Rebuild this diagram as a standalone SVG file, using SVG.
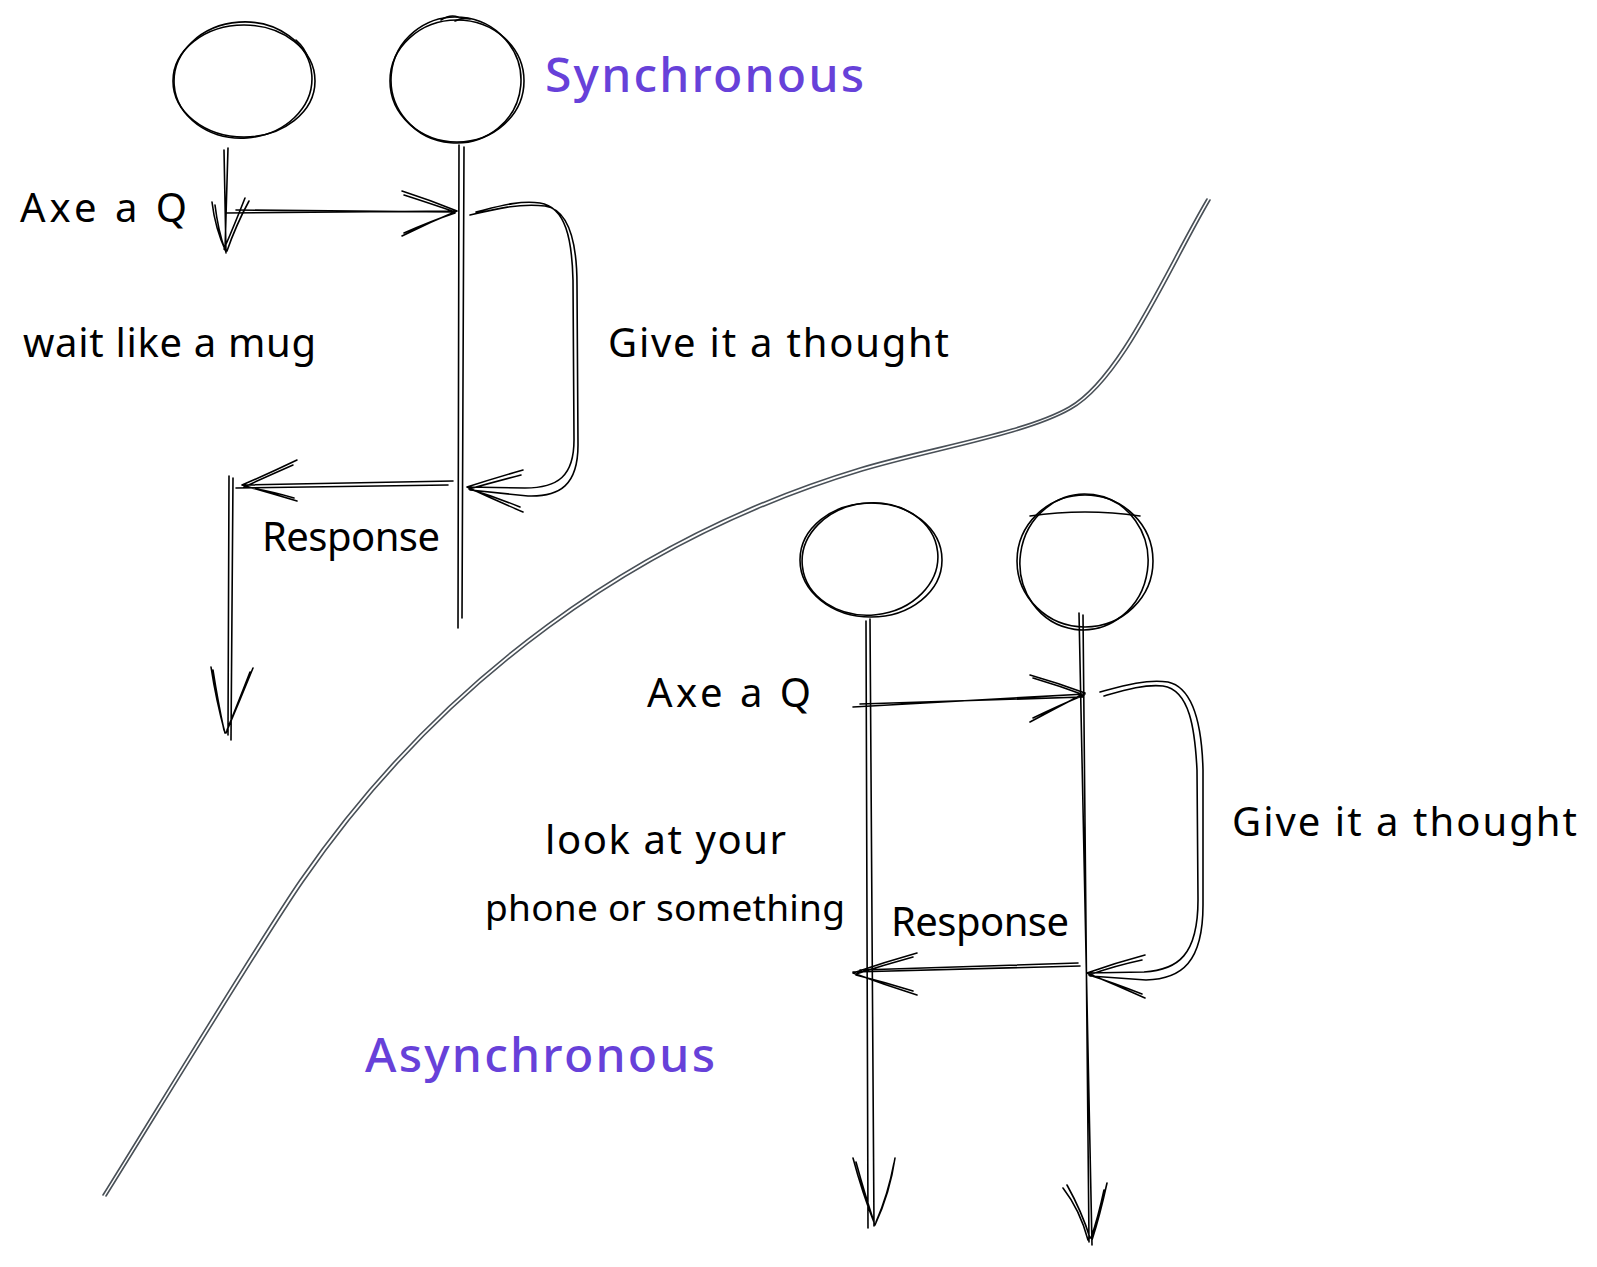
<svg xmlns="http://www.w3.org/2000/svg" width="1597" height="1267" viewBox="0 0 1597 1267">
<style>
.s{fill:none;stroke:#000;stroke-width:1.6;stroke-linecap:round;stroke-linejoin:round}
.d{fill:none;stroke:#495057;stroke-width:1.6;stroke-linecap:round}
.t{font-family:"Noto Sans","Liberation Sans",sans-serif;font-size:40px;fill:#000}
.p{font-family:"Noto Sans","Liberation Sans",sans-serif;font-size:48px;font-weight:500;fill:#6741d9}
</style>
<rect width="1597" height="1267" fill="#fff"/>
<g id="divider">
<path id="dv" class="d" d="M103,1195 C148,1123 260,938 300,880 C437.8,680.5 633.8,536.3 860,468 C930,447 1024,432.7 1069,407 C1120,378 1165,270 1207,199"/>
<path class="d" d="M106,1196 C151,1124 263,940 303,882 C440,683 636,539 862,471 C932,450 1026,435 1071,409 C1123,380 1168,272 1210,200"/>
</g>
<g id="nodeA">
<ellipse class="s" cx="244" cy="81" rx="71" ry="56"/>
<ellipse class="s" cx="243" cy="80" rx="69" ry="58" transform="rotate(-4 243 80)"/>
<path class="s" d="M296,40 Q305,48 308,58"/>
</g>
<g id="nodeB">
<ellipse class="s" cx="457" cy="81" rx="67" ry="61"/>
<ellipse class="s" cx="456" cy="80" rx="65" ry="63" transform="rotate(5 456 80)"/>
<path class="s" d="M441,20 Q450,14 458,17 M455,21 Q462,17 470,19"/>
</g>
<g id="nodeC">
<ellipse class="s" cx="871" cy="560" rx="71" ry="57"/>
<ellipse class="s" cx="870" cy="559" rx="68" ry="56" transform="rotate(-6 870 559)"/>
</g>
<g id="nodeD">
<ellipse class="s" cx="1085" cy="561" rx="68" ry="66"/>
<ellipse class="s" cx="1084" cy="562" rx="64" ry="68" transform="rotate(8 1084 562)"/>
<path class="s" d="M1030,516 Q1085,508 1140,516"/>
</g>
<g id="connectors">
<path class="s" d="M224,150 L226,253 M228,148 L225,250 M212,202 Q215,228 226,252 M215,205 Q218,230 225,250 M249,201 Q236,225 227,251 M245,198 Q234,226 224,249"/>
<path class="s" d="M226,213 L457,211 M236,210 L455,212 M402,191 Q430,200 457,211 M404,195 Q432,204 455,212 M402,236 Q430,222 457,211 M404,233 Q431,221 455,213"/>
<path class="s" d="M459,145 L458,628 M464,147 L462,618"/>
<path class="s" d="M476,212 C500,206 520,200 540,203 C566,207 572,240 573,280 L574,440 C574,476 558,488 525,488 L467,487 M470,215 C495,209 520,203 545,206 C570,210 577,245 577,285 L578,445 C578,485 560,497 528,496 L470,490 M523,470 Q495,478 467,487 M521,475 Q494,482 469,489 M523,512 Q495,500 467,487 M520,507 Q493,496 469,489"/>
<path class="s" d="M453,481 L242,485 M448,485 L236,488 M297,460 Q270,473 242,485 M293,465 Q268,476 244,487 M297,501 Q270,493 242,485 M294,498 Q267,490 244,487"/>
<path class="s" d="M229,476 L228,735 M233,478 L231,740 M211,667 Q216,700 225,733 M213,670 Q218,702 224,730 M253,668 Q240,700 226,733 M250,672 Q238,703 227,730"/>
<path class="s" d="M866,621 L868,1228 M870,619 L874,1226 M853,1158 Q862,1192 875,1225 M856,1162 Q865,1195 874,1222 M895,1158 Q890,1193 875,1225 M894,1163 Q888,1195 876,1222"/>
<path class="s" d="M1079,613 L1092,1245 M1083,615 L1089,1242 M1063,1188 Q1080,1210 1088,1240 M1067,1185 Q1082,1212 1090,1238 M1107,1183 Q1100,1215 1092,1240 M1104,1190 Q1098,1218 1091,1238"/>
<path class="s" d="M853,707 L1085,694 M860,704 L1083,697 M1030,675 Q1058,683 1085,693 M1033,678 Q1060,686 1084,695 M1030,722 Q1058,707 1085,693 M1033,718 Q1060,705 1084,695"/>
<path class="s" d="M1104,696 C1125,690 1145,684 1163,686 C1190,690 1195,730 1197,770 L1198,900 C1198,955 1178,970 1144,972 L1087,973 M1100,692 C1122,686 1145,679 1168,682 C1195,688 1202,730 1203,770 L1203,905 C1203,962 1182,979 1146,980 L1090,976 M1145,955 Q1115,963 1087,973 M1142,960 Q1114,966 1089,975 M1145,998 Q1116,985 1087,973 M1142,994 Q1114,983 1089,975"/>
<path class="s" d="M1080,966 L853,972 M1078,963 L860,970 M917,953 Q885,962 853,973 M913,957 Q884,965 856,974 M917,995 Q885,985 853,973 M913,991 Q884,982 856,975"/>
</g>
<g id="labels">
<text class="p" x="545" y="92" textLength="319">Synchronous</text>
<text class="t" x="20" y="222" textLength="167">Axe a Q</text>
<text class="t" x="23" y="357" textLength="293">wait like a mug</text>
<text class="t" x="608" y="357" textLength="341">Give it a thought</text>
<text class="t" x="262" y="551" textLength="178">Response</text>
<text class="t" x="647" y="707" textLength="164">Axe a Q</text>
<text class="t" x="545" y="854" textLength="241">look at your</text>
<text class="t" x="485" y="921" textLength="360" style="font-size:37px">phone or something</text>
<text class="t" x="1232" y="836" textLength="345">Give it a thought</text>
<text class="t" x="891" y="936" textLength="178">Response</text>
<text class="p" x="365" y="1072" textLength="350">Asynchronous</text>
</g>
</svg>
